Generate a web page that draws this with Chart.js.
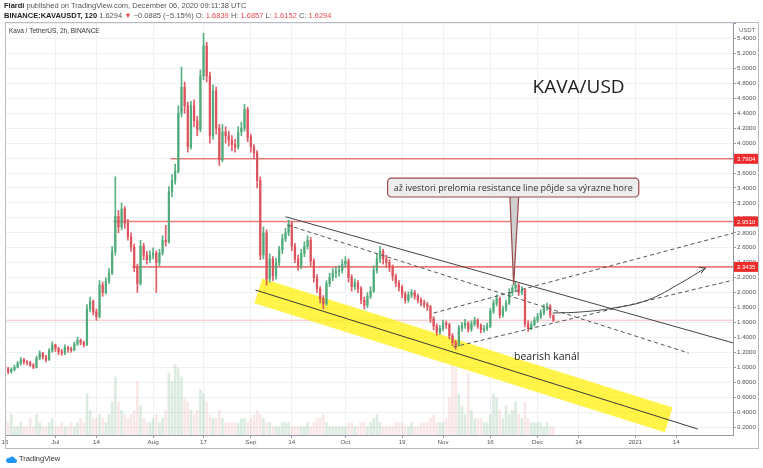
<!DOCTYPE html>
<html>
<head>
<meta charset="utf-8">
<script src="https://cdn.jsdelivr.net/npm/chart.js@4.4.0/dist/chart.umd.min.js"></script>
<style>
  html, body { margin: 0; padding: 0; background: #fff; }
  #wrap { position: relative; width: 763px; height: 468px; overflow: hidden; }
  #wrap canvas { position: absolute; left: 0; top: 0; }
  .hdr { position: absolute; left: 4px; font-family: 'Liberation Sans', Arial, sans-serif; font-size: 7.5px; line-height: 9px; color: #555; white-space: nowrap; }
  .hdr b { color: #222; }
  .red { color: #e8474f; }
  .foot { position: absolute; left: 5px; top: 454px; font-family: 'Liberation Sans', Arial, sans-serif; font-size: 7.5px; color: #333; white-space: nowrap; }
  .foot svg { vertical-align: -2px; margin-right: 2px; }
</style>
</head>
<body>
<div id="wrap">
  <canvas id="kava_chart" width="763" height="468"></canvas>
  <div class="hdr" style="top:1px"><b>Fiardi</b> published on TradingView.com, December 06, 2020 09:11:38 UTC</div>
  <div class="hdr" style="top:11px"><b>BINANCE:KAVAUSDT, 120</b> 1.6294 <span class="red">&#9660;</span> &minus;0.0885 (&minus;5.15%) O: <span class="red">1.6839</span> H: <span class="red">1.6857</span> L: <span class="red">1.6152</span> C: <span class="red">1.6294</span></div>
  <div class="foot"><svg width="12" height="8" viewBox="0 0 12 8"><path d="M3 8h7a2 2 0 0 0 0-4 3 3 0 0 0-5.6-1A2.5 2.5 0 0 0 3 8z" fill="#2196f3"/></svg>TradingView</div>
</div>
<script>
// daily candles from Jun 15 2020 (day 0) to Dec 6 2020 (day 174)
const firstOpen = 1.02;
const closes = [
  0.98, 0.94, 0.97, 1.00, 1.05, 1.10, 1.07, 1.06, 1.03, 1.00,
  1.12, 1.19, 1.14, 1.10, 1.22, 1.30, 1.25, 1.21, 1.19, 1.26,
  1.24, 1.23, 1.31, 1.36, 1.33, 1.30, 1.78, 1.88, 1.74, 1.68,
  2.10, 2.00, 2.15, 2.26, 2.55, 3.02, 2.88, 3.12, 2.93, 2.75,
  2.61, 2.34, 2.12, 2.62, 2.50, 2.44, 2.50, 2.53, 2.40, 2.53,
  2.70, 2.68, 3.35, 3.50, 3.62, 4.40, 4.75, 4.50, 3.95, 4.50,
  4.30, 4.18, 4.90, 5.30, 4.90, 4.10, 4.70, 4.20, 3.78, 4.15,
  4.10, 4.04, 3.98, 3.95, 4.15, 4.20, 4.45, 4.08, 3.95, 3.87,
  3.50, 2.50, 2.80, 2.18, 2.45, 2.22, 2.40, 2.57, 2.72, 2.80,
  2.92, 2.62, 2.45, 2.35, 2.52, 2.62, 2.70, 2.42, 2.20, 2.05,
  1.92, 1.85, 2.12, 2.20, 2.26, 2.28, 2.30, 2.38, 2.42, 2.20,
  2.08, 2.13, 2.05, 1.90, 1.83, 1.95, 2.02, 2.30, 2.45, 2.55,
  2.45, 2.40, 2.34, 2.22, 2.13, 2.07, 1.98, 1.90, 1.97, 2.00,
  1.95, 1.90, 1.86, 1.84, 1.81, 1.65, 1.55, 1.47, 1.52, 1.59,
  1.57, 1.42, 1.33, 1.30, 1.52, 1.56, 1.59, 1.51, 1.58, 1.63,
  1.56, 1.50, 1.52, 1.55, 1.75, 1.86, 1.92, 1.70, 1.78, 1.86,
  2.00, 2.06, 2.10, 2.00, 2.03, 1.58, 1.52, 1.57, 1.63, 1.68,
  1.73, 1.80, 1.82, 1.70, 1.6294
];
const highs = [
  1.06, 1.00, 0.99, 1.03, 1.08, 1.13, 1.12, 1.09, 1.08, 1.05,
  1.15, 1.22, 1.20, 1.16, 1.25, 1.34, 1.31, 1.27, 1.24, 1.30,
  1.28, 1.27, 1.34, 1.40, 1.38, 1.35, 1.84, 1.94, 1.90, 1.78,
  2.16, 2.14, 2.20, 2.32, 2.62, 3.55, 3.10, 3.20, 3.15, 2.98,
  2.80, 2.65, 2.38, 2.70, 2.66, 2.55, 2.56, 2.60, 2.56, 2.58,
  2.76, 2.90, 3.42, 3.58, 3.72, 4.50, 5.02, 4.82, 4.55, 4.56,
  4.58, 4.36, 4.98, 5.47, 5.35, 4.95, 4.78, 4.75, 4.25, 4.25,
  4.22, 4.16, 4.10, 4.05, 4.22, 4.28, 4.52, 4.48, 4.12, 3.98,
  3.90, 3.55, 2.88, 2.84, 2.52, 2.48, 2.46, 2.62, 2.78, 2.86,
  2.97, 2.95, 2.66, 2.50, 2.58, 2.68, 2.76, 2.74, 2.45, 2.24,
  2.08, 1.96, 2.16, 2.26, 2.32, 2.34, 2.36, 2.44, 2.48, 2.45,
  2.24, 2.18, 2.16, 2.08, 1.94, 2.00, 2.08, 2.36, 2.52, 2.62,
  2.58, 2.50, 2.44, 2.37, 2.25, 2.16, 2.10, 2.01, 2.01, 2.04,
  2.03, 1.98, 1.93, 1.90, 1.87, 1.83, 1.68, 1.58, 1.56, 1.63,
  1.62, 1.59, 1.45, 1.36, 1.56, 1.60, 1.64, 1.61, 1.62, 1.67,
  1.65, 1.58, 1.56, 1.59, 1.79, 1.90, 1.97, 1.94, 1.82, 1.90,
  2.05, 2.10, 2.15, 2.12, 2.08, 2.05, 1.62, 1.61, 1.67, 1.72,
  1.77, 1.84, 1.86, 1.84, 1.69
];
const lows = [
  0.95, 0.91, 0.92, 0.95, 0.99, 1.03, 1.04, 1.03, 1.01, 0.98,
  0.99, 1.10, 1.11, 1.07, 1.09, 1.20, 1.21, 1.17, 1.16, 1.17,
  1.20, 1.20, 1.22, 1.29, 1.30, 1.27, 1.29, 1.74, 1.70, 1.63,
  1.66, 1.95, 1.98, 2.12, 2.24, 2.50, 2.80, 2.84, 2.86, 2.70,
  2.55, 2.28, 2.00, 2.10, 2.44, 2.38, 2.40, 2.45, 2.00, 2.36,
  2.50, 2.62, 2.66, 3.28, 3.45, 3.60, 4.35, 4.40, 3.88, 3.92,
  4.22, 4.10, 4.15, 4.85, 4.82, 4.00, 4.05, 4.12, 3.70, 3.75,
  4.00, 3.96, 3.90, 3.88, 3.92, 4.10, 4.16, 4.02, 3.88, 3.80,
  3.40, 2.44, 2.45, 2.10, 2.14, 2.16, 2.18, 2.36, 2.52, 2.68,
  2.76, 2.56, 2.40, 2.30, 2.32, 2.48, 2.58, 2.36, 2.14, 2.00,
  1.86, 1.78, 1.83, 2.08, 2.16, 2.20, 2.22, 2.26, 2.34, 2.14,
  2.02, 2.04, 2.00, 1.85, 1.78, 1.80, 1.92, 2.00, 2.26, 2.40,
  2.38, 2.34, 2.28, 2.16, 2.08, 2.02, 1.93, 1.86, 1.87, 1.93,
  1.91, 1.86, 1.82, 1.80, 1.76, 1.60, 1.50, 1.43, 1.44, 1.49,
  1.52, 1.38, 1.29, 1.24, 1.28, 1.48, 1.52, 1.47, 1.48, 1.55,
  1.52, 1.46, 1.47, 1.49, 1.53, 1.72, 1.82, 1.66, 1.67, 1.75,
  1.84, 1.96, 2.02, 1.96, 1.97, 1.54, 1.48, 1.50, 1.55, 1.60,
  1.65, 1.70, 1.76, 1.66, 1.61
];
const volumes = [
  6, 3, 5, 2, 2, 3, 2, 2, 4, 2,
  5, 3, 2, 2, 3, 4, 2, 2, 3, 2,
  2, 3, 2, 3, 4, 3, 10, 6, 4, 4,
  5, 4, 3, 5, 8, 14, 8, 6, 5, 4,
  5, 6, 13, 7, 4, 3, 3, 4, 5, 3,
  4, 6, 15, 13, 17, 16, 14, 9, 8, 6,
  5, 6, 11, 10, 8, 5, 4, 4, 6, 4,
  3, 3, 3, 3, 3, 4, 4, 3, 4, 5,
  6, 5, 4, 3, 3, 2, 2, 2, 3, 3,
  3, 2, 2, 2, 2, 2, 3, 2, 3, 4,
  4, 5, 3, 2, 2, 2, 2, 2, 2, 3,
  3, 2, 2, 3, 3, 2, 3, 4, 5, 3,
  2, 2, 2, 2, 3, 3, 3, 2, 2, 3,
  2, 2, 3, 3, 3, 4, 5, 3, 3, 3,
  4, 9, 17, 16, 10, 7, 5, 15, 6, 4,
  4, 4, 3, 3, 5, 10, 9, 6, 4, 7,
  5, 6, 8, 5, 4, 8, 4, 3, 3, 3,
  3, 2, 3, 2, 2
];
const opens = closes.map((c, i) => (i === 0 ? firstOpen : closes[i - 1]));

// axes
const dateTickDays = [0, 16, 29, 47, 63, 78, 91, 108, 126, 139, 154, 169, 182, 200, 213];
const dateTickLabels = ['15', 'Jul', '14', 'Aug', '17', 'Sep', '14', 'Oct', '19', 'Nov', '16', 'Dec', '14', '2021', '14'];
const priceTicks = [0.2, 0.4, 0.6, 0.8, 1.0, 1.2, 1.4, 1.6, 1.8, 2.0, 2.2, 2.4, 2.6, 2.8, 3.0,
                    3.2, 3.4, 3.6, 3.8, 4.0, 4.2, 4.4, 4.6, 4.8, 5.0, 5.2, 5.4, 5.6];

// drawings (day, price)
const resistanceLevels = [3.7904, 2.9510, 2.3435];
const resistanceStarts = [52.5, 34.4, 40.4];
const lastPrice = 1.6294;
const channelCenter = [{ x: 79.5, y: 2.034 }, { x: 219.8, y: 0.173 }];
const channelBand = [{ x: 80.4, y: 2.022 }, { x: 210.6, y: 0.295 }];
const upperResistance = [{ x: 89.0, y: 3.015 }, { x: 231.2, y: 1.324 }];
const dashedDown = [{ x: 89.6, y: 2.904 }, { x: 216.9, y: 1.191 }];
const dashedUpLow = [{ x: 142.3, y: 1.271 }, { x: 231.2, y: 2.168 }];
const dashedUpHigh = [{ x: 136.0, y: 1.726 }, { x: 231.2, y: 2.797 }];
const projection = [
  { x: 173.8, y: 1.726 }, { x: 182.7, y: 1.740 }, { x: 193.1, y: 1.793 },
  { x: 204.0, y: 1.900 }, { x: 214.4, y: 2.128 }, { x: 222.3, y: 2.329 }
];
const callout = {
  text: 'až ivestori prelomia resistance line pôjde sa výrazne hore',
  left: 121.4, right: 201.1, top: 3.533, bottom: 3.279,
  baseL: 160.2, baseR: 163.0, tipX: 161.4, tipY: 2.10
};
const titleLabel = { text: 'KAVA/USD', x: 182.0, y: 4.738 };
const channelLabel = { text: 'bearish kanál', x: 171.9, y: 1.137 };

const upColor = 'rgba(78,170,120,0.92)';
const downColor = 'rgba(220,80,90,0.92)';
const candleColors = closes.map((c, i) => (c >= opens[i] ? upColor : downColor));
const volColors = closes.map((c, i) => (c >= opens[i] ? 'rgba(110,175,130,0.24)' : 'rgba(225,110,115,0.16)'));

const lineSet = (data, color, width, dash, order) => ({
  type: 'line', data: data, borderColor: color, borderWidth: width, borderDash: dash || [],
  pointRadius: 0, fill: false, tension: 0, order: order
});

const datasets = [
  {
    type: 'bar', data: closes.map((c, i) => ({ x: i, y: volumes[i] })), yAxisID: 'yv',
    backgroundColor: volColors, barThickness: 2, grouped: false, order: 9
  },
  lineSet([{ x: 0, y: lastPrice }, { x: 231, y: lastPrice }], 'rgba(235,110,110,0.45)', 1, [], 8),
  ...resistanceLevels.map((v, i) =>
    lineSet([{ x: resistanceStarts[i], y: v }, { x: 231, y: v }], 'rgba(228,80,80,0.75)', 1.6, [], 7)),
  Object.assign(lineSet(channelBand, 'rgba(255,240,0,0.72)', 26, [], 6), { borderCapStyle: 'butt' }),
  {
    type: 'bar', data: closes.map((c, i) => ({ x: i, y: [lows[i], highs[i]] })),
    backgroundColor: candleColors, barThickness: 1, grouped: false, order: 5
  },
  {
    type: 'bar', data: closes.map((c, i) => ({ x: i, y: [opens[i], c] })),
    backgroundColor: candleColors, barThickness: 1.6, minBarLength: 1, grouped: false, order: 4
  },
  lineSet(channelCenter, '#3a3a3a', 1, [], 3),
  lineSet(upperResistance, '#444', 1, [], 3),
  lineSet(dashedDown, '#555', 1, [4, 3], 3),
  lineSet(dashedUpLow, '#555', 1, [4, 3], 3),
  lineSet(dashedUpHigh, '#555', 1, [4, 3], 3),
  Object.assign(lineSet(projection, '#444', 1, [], 2), { tension: 0.4 })
];
const projectionIndex = datasets.length - 1;

const overlay = {
  id: 'overlay',
  afterDatasetsDraw(chart) {
    const ctx = chart.ctx, xs = chart.scales.x, ys = chart.scales.y, area = chart.chartArea;
    ctx.save();
    ctx.beginPath();
    ctx.rect(area.left, area.top, area.right - area.left, area.bottom - area.top);
    ctx.clip();

    // arrow head at the end of the projection
    const pts = chart.getDatasetMeta(projectionIndex).data;
    const a = pts[pts.length - 2], b = pts[pts.length - 1];
    const ang = Math.atan2(b.y - a.y, b.x - a.x) + 0.15;
    ctx.strokeStyle = '#444';
    ctx.lineWidth = 1;
    ctx.beginPath();
    ctx.moveTo(b.x - 7 * Math.cos(ang - 0.45), b.y - 7 * Math.sin(ang - 0.45));
    ctx.lineTo(b.x, b.y);
    ctx.lineTo(b.x - 7 * Math.cos(ang + 0.45), b.y - 7 * Math.sin(ang + 0.45));
    ctx.stroke();

    // callout
    const bx1 = xs.getPixelForValue(callout.left), bx2 = xs.getPixelForValue(callout.right);
    const by1 = ys.getPixelForValue(callout.top), by2 = ys.getPixelForValue(callout.bottom);
    ctx.beginPath();
    ctx.moveTo(xs.getPixelForValue(callout.baseL), by2 - 1);
    ctx.lineTo(xs.getPixelForValue(callout.tipX), ys.getPixelForValue(callout.tipY));
    ctx.lineTo(xs.getPixelForValue(callout.baseR), by2 - 1);
    ctx.closePath();
    ctx.fillStyle = '#cfcfcf';
    ctx.fill();
    ctx.strokeStyle = '#9c4b4b';
    ctx.lineWidth = 1.2;
    ctx.stroke();
    ctx.beginPath();
    ctx.roundRect(bx1, by1, bx2 - bx1, by2 - by1, 4);
    ctx.fillStyle = '#ededed';
    ctx.fill();
    ctx.stroke();
    ctx.fillStyle = '#303030';
    ctx.font = '9px "Open Sans"';
    ctx.textAlign = 'center';
    ctx.textBaseline = 'middle';
    ctx.fillText(callout.text, (bx1 + bx2) / 2, (by1 + by2) / 2 + 0.5);

    // labels
    ctx.fillStyle = '#1e1e1e';
    ctx.font = '19px "Open Sans"';
    ctx.fillText(titleLabel.text, xs.getPixelForValue(titleLabel.x), ys.getPixelForValue(titleLabel.y));
    ctx.font = '10.5px "Open Sans"';
    ctx.fillText(channelLabel.text, xs.getPixelForValue(channelLabel.x), ys.getPixelForValue(channelLabel.y));

    ctx.textAlign = 'left';
    ctx.fillStyle = '#333';
    ctx.font = '6.5px "Liberation Sans"';
    ctx.fillText('Kava / TetherUS, 2h, BINANCE', area.left + 4, area.top + 9);
    ctx.restore();
  },
  afterDraw(chart) {
    const ctx = chart.ctx, ys = chart.scales.y, area = chart.chartArea;
    ctx.save();
    ctx.font = '6px "Liberation Sans"';
    ctx.textBaseline = 'middle';
    ctx.textAlign = 'left';
    ctx.fillStyle = '#666';
    ctx.fillText('USDT', area.right + 6, area.top + 8);
    resistanceLevels.forEach((v) => {
      const py = ys.getPixelForValue(v);
      ctx.fillStyle = '#ee2a2a';
      ctx.fillRect(area.right + 1, py - 5, 25, 10);
      ctx.fillStyle = '#fff';
      ctx.fillText(v.toFixed(4), area.right + 4, py + 0.5);
    });
    ctx.strokeStyle = '#b8bbc2';
    ctx.lineWidth = 1;
    ctx.strokeRect(area.left + 0.5, area.top + 0.5, 759 - area.left - 1, 449 - area.top - 1);
    ctx.restore();
  }
};

new Chart(document.getElementById('kava_chart').getContext('2d'), {
  type: 'bar',
  data: { datasets: datasets },
  options: {
    responsive: false,
    animation: false,
    events: [],
    layout: { padding: { left: 5, top: 22, right: 4, bottom: 19 } },
    plugins: { legend: { display: false }, tooltip: { enabled: false } },
    scales: {
      x: {
        type: 'linear', min: 0, max: 231, offset: false,
        afterBuildTicks: (s) => { s.ticks = dateTickDays.map((d) => ({ value: d })); },
        afterFit: (s) => { s.height = 14; },
        grid: { color: '#eef0f4', offset: false, tickLength: 3, tickColor: '#9a9da5' },
        border: { color: '#9598a1' },
        ticks: {
          autoSkip: false, maxRotation: 0, padding: 1, color: '#555',
          font: { family: 'Liberation Sans', size: 6.2 },
          callback: (v, i) => dateTickLabels[i]
        }
      },
      y: {
        position: 'right', min: 0.093, max: 5.622,
        afterBuildTicks: (s) => { s.ticks = priceTicks.map((v) => ({ value: v })); },
        afterFit: (s) => { s.width = 26; },
        grid: { color: '#eef0f4', tickLength: 3, tickColor: '#9a9da5' },
        border: { color: '#9598a1' },
        ticks: {
          autoSkip: false, padding: 1, color: '#555',
          font: { family: 'Liberation Sans', size: 6.2 },
          callback: (v) => (v > 5.5 ? '' : v.toFixed(4))
        }
      },
      yv: { display: false, min: 0, max: 100 }
    }
  },
  plugins: [overlay]
});
</script>
</body>
</html>
